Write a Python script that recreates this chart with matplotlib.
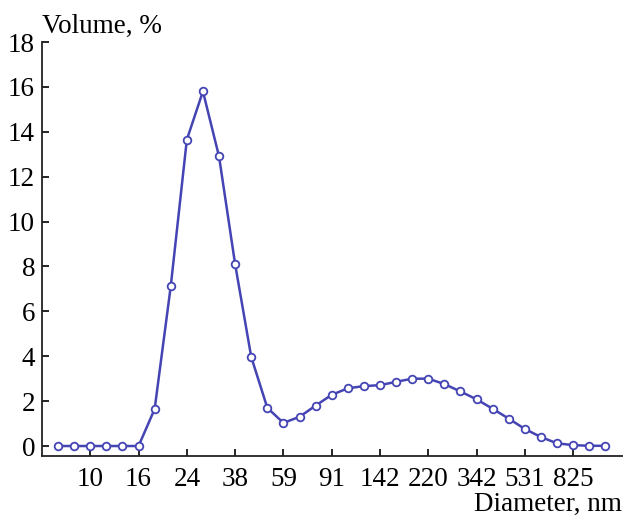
import numpy as np
import matplotlib
matplotlib.use("Agg")
import matplotlib.pyplot as plt

# volume distribution, one value per size bin (bins equally spaced on the plot)
volume = [0, 0, 0, 0, 0, 0, 1.65, 7.12, 13.65, 15.8, 12.9, 8.1, 3.97, 1.7, 1.03,
          1.3, 1.8, 2.28, 2.57, 2.67, 2.71, 2.86, 3.0, 3.0, 2.76, 2.43, 2.08,
          1.66, 1.22, 0.76, 0.4, 0.12, 0.04, 0.01, 0.01]
tick_labels = ['10', '16', '24', '38', '59', '91', '142', '220', '342', '531', '825']
tick_idx = [2, 5, 8, 11, 14, 17, 20, 23, 26, 29, 32]
y_ticks = [0, 2, 4, 6, 8, 10, 12, 14, 16, 18]

plt.rcParams['font.family'] = ['Liberation Serif', 'DejaVu Serif']
col = '#4444b4'
fs = 19.5

fig = plt.figure(figsize=(6.23, 5.17), dpi=100)
ax = fig.add_axes([42 / 623, (517 - 456) / 517, (623 - 42) / 623, (456 - 42) / 517])

x = np.arange(len(volume))
ax.plot(x, volume, color=col, lw=1.8, marker='o', ms=5.5, mfc='white', mec=col, mew=1.3)

ax.set_xlim(-1.0, 35.1)
ax.set_ylim(-0.445, 18)
ax.set_xticks(tick_idx)
ax.set_xticklabels(tick_labels)
ax.set_yticks(y_ticks)
ax.tick_params(direction='in', length=5, width=1.2, labelsize=fs, pad=5)
ax.tick_params(axis='x', pad=8)
for s in ['top', 'right']:
    ax.spines[s].set_visible(False)
for s in ['left', 'bottom']:
    ax.spines[s].set_linewidth(1.3)
    ax.spines[s].set_color('#222222')

fig.text(42 / 623, 1 - 33 / 517, 'Volume, %', fontsize=fs, ha='left', va='baseline')
fig.text(622 / 623, 1 - 511 / 517, 'Diameter, nm', fontsize=fs, ha='right', va='baseline')

fig.savefig('out.png', dpi=100)
